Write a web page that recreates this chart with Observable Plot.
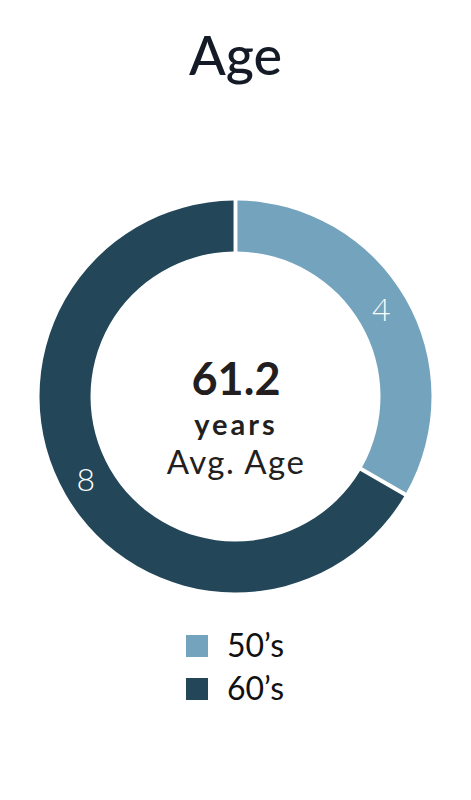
<!DOCTYPE html>
<html><head><meta charset="utf-8">
<script src="https://cdn.jsdelivr.net/npm/d3@7"></script>
<script src="https://cdn.jsdelivr.net/npm/@observablehq/plot@0.6"></script>
<style>
html,body{margin:0;padding:0;background:#fff;}
#wrap{position:relative;width:471px;height:800px;font-family:Lato,"Noto Sans",sans-serif;}
#title{position:absolute;left:0;width:471px;top:28px;text-align:center;font-size:54px;line-height:1;font-weight:500;color:#141b27;}
#chart{position:absolute;left:0;top:150px;}
.leg{position:absolute;left:186px;height:32px;display:flex;align-items:flex-start;font-size:32px;line-height:1;color:#111;font-weight:400;}
.leg .sw{width:22px;height:22px;margin-top:6px;margin-right:19px;}
</style></head><body>
<div id="wrap">
  <div id="title">Age</div>
  <div id="chart"></div>
  <div id="legend"></div>
</div>
<script>
const groups = ["50’s", "60’s"];
const counts = [4, 8];
const colors = ["#74a3bd", "#234659"];
const centerValue = ["61.2"];
const centerUnit = ["years"];
const centerLabel = ["Avg. Age"];

const data = groups.map((g, i) => ({group: g, count: counts[i]}));
const total = d3.sum(counts);
const outerR = 196, innerR = 145;

function donut(index, scales, values, dimensions) {
  const cx = dimensions.width / 2, cy = dimensions.height / 2;
  const g = d3.create("svg:g").attr("transform", `translate(${cx},${cy})`);
  const arc = d3.arc().innerRadius(innerR).outerRadius(outerR).padAngle(0.016);
  for (const i of index) {
    g.append("path")
      .attr("d", arc({startAngle: values.x1[i], endAngle: values.x2[i]}))
      .attr("fill", values.fill[i]);
  }
  for (const i of index) {
    const [x, y] = arc.centroid({startAngle: values.x1[i], endAngle: values.x2[i]});
    g.append("text")
      .attr("x", x - 2).attr("y", y - 2).attr("dy", "0.36em")
      .attr("text-anchor", "middle")
      .attr("fill", "white")
      .attr("font-size", 32).attr("font-weight", 300)
      .attr("font-family", "Lato, sans-serif")
      .text(data[i].count);
  }
  return g.node();
}

const chart = Plot.plot({
  width: 471,
  height: 493,
  margin: 0,
  x: {domain: [0, total], range: [0, 2 * Math.PI], axis: null},
  color: {domain: groups, range: colors},
  style: {fontFamily: "Lato, sans-serif", background: "white"},
  marks: [
    Plot.barX(data, Plot.stackX({x: "count", fill: "group", order: null, render: donut})),
    Plot.text(centerValue, {text: d => d, frameAnchor: "middle", dy: -16, fontSize: 45, fontWeight: 700, fill: "#231f20"}),
    Plot.text(centerUnit, {text: d => d, frameAnchor: "middle", dy: 29, fontSize: 29, fontWeight: 700, fill: "#231f20"}),
    Plot.text(centerLabel, {text: d => d, frameAnchor: "middle", dy: 66, fontSize: 33, fontWeight: 400, fill: "#231f20"})
  ]
});
d3.select(chart).selectAll("text").each(function() {
  const t = this.textContent;
  if (t === centerUnit[0]) d3.select(this).style("letter-spacing", "3px");
  if (t === centerLabel[0]) d3.select(this).style("letter-spacing", "1.5px");
});
document.getElementById("chart").appendChild(chart);

const legend = document.getElementById("legend");
groups.forEach((g, i) => {
  const row = document.createElement("div");
  row.className = "leg";
  row.style.top = (629 + i * 43) + "px";
  const sw = document.createElement("div");
  sw.className = "sw";
  sw.style.background = colors[i];
  const t = document.createElement("span");
  t.textContent = g;
  row.appendChild(sw); row.appendChild(t);
  legend.appendChild(row);
});
</script>
</body></html>
